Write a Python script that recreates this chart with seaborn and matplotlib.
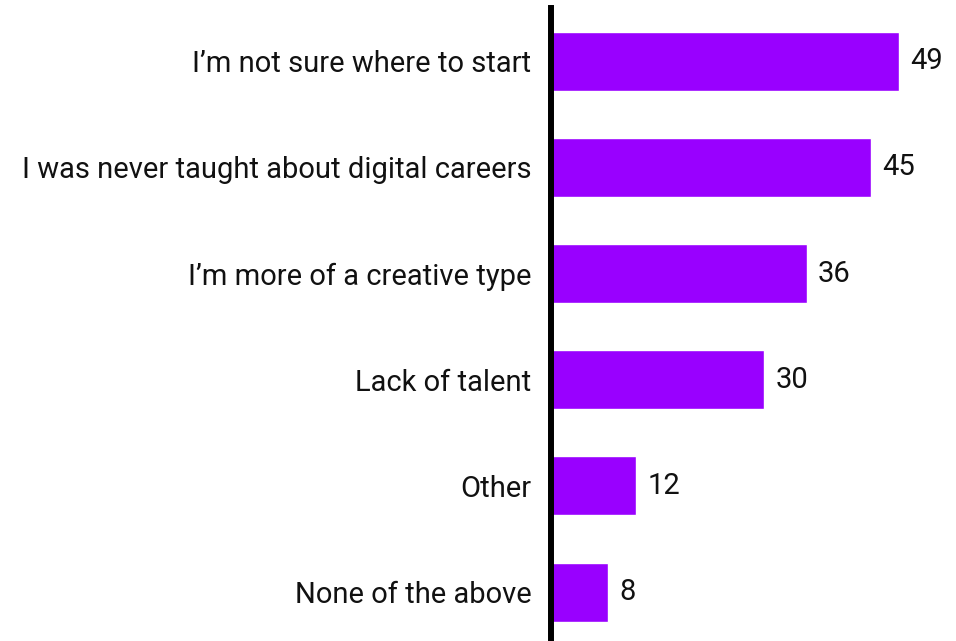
import matplotlib
matplotlib.use("Agg")
import matplotlib.pyplot as plt
import pandas as pd
import seaborn as sns

categories = [
    "I\u2019m not sure where to start",
    "I was never taught about digital careers",
    "I\u2019m more of a creative type",
    "Lack of talent",
    "Other",
    "None of the above",
]
values = [49, 45, 36, 30, 12, 8]

df = pd.DataFrame({"reason": categories, "count": values})

sns.set_theme(style="white")
plt.rcParams["font.family"] = ["Roboto", "DejaVu Sans"]

fig = plt.figure(figsize=(9.56, 6.41), dpi=100)
ax = fig.add_axes([551 / 956, 0.0, 1 - 551 / 956, 1 - 8 / 641])

sns.barplot(data=df, x="count", y="reason", orient="h", color="#9900ff",
            saturation=1, width=0.556, ax=ax)

for c in ax.containers:
    ax.bar_label(c, padding=8, fontsize=21, color="#111111")

ax.set_xlim(0, 57)
ax.set_ylim(5.46, -0.5)
ax.set_xlabel("")
ax.set_ylabel("")
ax.set_xticks([])
ax.tick_params(axis="y", length=0, pad=14, labelsize=21, labelcolor="#111111")
for side in ["top", "right", "bottom"]:
    ax.spines[side].set_visible(False)
ax.spines["left"].set_linewidth(4.3)
ax.spines["left"].set_color("black")

fig.savefig("out.png", dpi=100)
